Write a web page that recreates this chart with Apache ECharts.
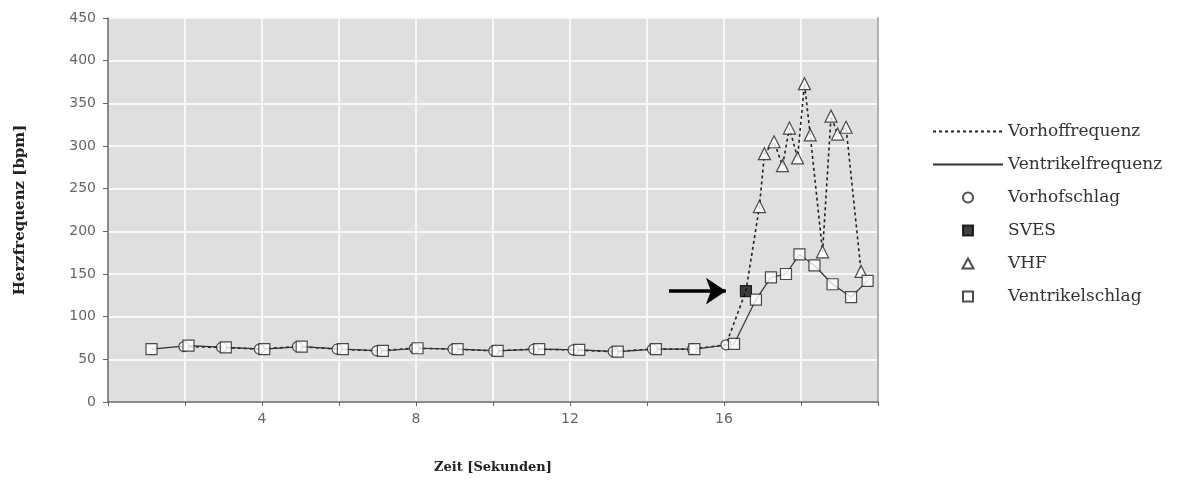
<!DOCTYPE html>
<html>
<head>
<meta charset="utf-8">
<script src="https://cdn.jsdelivr.net/npm/echarts@6/dist/echarts.min.js"></script>
<style>html,body{margin:0;padding:0;background:#fff}#c{width:1195px;height:484px}</style>
</head>
<body>
<div id="c"></div>
<script>
// Vorhofschlag (atrial beats)
var vorhofZeit = [1.97, 2.95, 3.93, 4.92, 5.95, 6.98, 7.96, 8.96, 10.02, 11.06, 12.08, 13.12, 14.14, 15.18, 16.05];
var vorhofWert = [65, 64, 62, 65, 62, 60, 63, 62, 60, 62, 61, 59, 62, 62, 67];
// SVES
var svesZeit = [16.57];
var svesWert = [130];
// VHF (atrial fibrillation beats)
var vhfZeit = [16.92, 17.05, 17.3, 17.52, 17.7, 17.91, 18.09, 18.24, 18.56, 18.78, 18.95, 19.17, 19.56];
var vhfWert = [229, 291, 305, 277, 321, 286, 373, 313, 176, 335, 314, 322, 153];
// Ventrikelschlag (ventricular beats)
var ventrikelZeit = [1.13, 2.09, 3.06, 4.06, 5.03, 6.1, 7.14, 8.04, 9.08, 10.12, 11.2, 12.24, 13.24, 14.23, 15.23, 16.26, 16.83, 17.22, 17.61, 17.96, 18.35, 18.82, 19.3, 19.73];
var ventrikelWert = [62, 66, 64, 62, 65, 62, 60, 63, 62, 60, 62, 61, 59, 62, 62, 68, 120, 146, 150, 173, 160, 138, 123, 142];
// arrow annotation (pointing at SVES)
var pfeilStart = [14.57, 130];
var pfeilEnde = [16.05, 130];
var xTickLabels = [4, 8, 12, 16];

function pairs(t, v) { return t.map(function (x, i) { return [x, v[i]]; }); }
var vorhof = pairs(vorhofZeit, vorhofWert);
var sves = pairs(svesZeit, svesWert);
var vhf = pairs(vhfZeit, vhfWert);
var ventrikel = pairs(ventrikelZeit, ventrikelWert);
var vorhofLinie = vorhof.concat(sves, vhf).sort(function (a, b) { return a[0] - b[0]; });

var squarePath = 'path://M0,0L10,0L10,10L0,10Z';
var trianglePath = 'path://M5,0L10,9L0,9Z';
var hidden = { color: 'rgba(0,0,0,0)', borderColor: 'rgba(0,0,0,0)', borderWidth: 0 };

var markerStyle = { color: '#ffffff', borderColor: '#222', borderWidth: 1.2 };
var chart = echarts.init(document.getElementById('c'), null, { renderer: 'canvas' });
chart.setOption({
  animation: false,
  backgroundColor: '#ffffff',
  grid: { left: 108, right: 317, top: 18, bottom: 82, show: true, backgroundColor: '#dfdfdf', borderWidth: 0 },
  legend: {
    orient: 'vertical', left: 927, top: 118, itemWidth: 70, itemHeight: 10, itemGap: 16,
    textStyle: { fontFamily: 'DejaVu Serif', fontSize: 17, color: '#333' },
    symbolKeepAspect: true,
    data: [
      { name: 'Vorhoffrequenz', itemStyle: hidden },
      { name: 'Ventrikelfrequenz', itemStyle: hidden },
      { name: 'Vorhofschlag', icon: 'circle' },
      { name: 'SVES', icon: squarePath },
      { name: 'VHF', icon: trianglePath },
      { name: 'Ventrikelschlag', icon: squarePath }
    ]
  },
  xAxis: {
    type: 'value', min: 0, max: 20, interval: 2,
    name: 'Zeit [Sekunden]', nameLocation: 'middle', nameGap: 59,
    nameTextStyle: { fontFamily: 'DejaVu Serif', fontWeight: 'bold', fontSize: 13, color: '#222' },
    axisLine: { show: true, lineStyle: { color: '#666', width: 1.5 } },
    axisTick: { show: true, length: 4, lineStyle: { color: '#666' } },
    axisLabel: {
      margin: 10, fontFamily: 'DejaVu Sans', fontSize: 14, color: '#666',
      formatter: function (v) { return xTickLabels.indexOf(v) >= 0 ? String(v) : ''; }
    },
    splitLine: { show: true, lineStyle: { color: '#f8f8f8', width: 2 } }
  },
  yAxis: [{
    type: 'value', min: 0, max: 450, interval: 50,
    name: 'Herzfrequenz [bpm]', nameLocation: 'middle', nameGap: 80,
    nameTextStyle: { fontFamily: 'DejaVu Serif', fontWeight: 'bold', fontSize: 15, color: '#222' },
    axisLine: { show: true, lineStyle: { color: '#666', width: 1.5 } },
    axisTick: { show: true, length: 5, lineStyle: { color: '#666' } },
    axisLabel: { margin: 12, fontFamily: 'DejaVu Sans', fontSize: 14, color: '#666' },
    splitLine: { show: true, lineStyle: { color: '#f8f8f8', width: 2 } }
  }, {
    type: 'value', min: 0, max: 450, position: 'right',
    axisLine: { show: true, lineStyle: { color: '#b0b0b0', width: 2 } },
    axisTick: { show: false }, axisLabel: { show: false }, splitLine: { show: false }
  }],
  series: [
    { name: 'Vorhoffrequenz', type: 'line', data: vorhofLinie, symbol: 'none', z: 2,
      lineStyle: { color: '#222', width: 1.6, type: [3, 3] }, itemStyle: { color: '#222' } },
    { name: 'Ventrikelfrequenz', type: 'line', data: ventrikel, symbol: 'none', z: 2,
      lineStyle: { color: '#333', width: 1.2, type: 'solid' }, itemStyle: { color: '#333' } },
    { name: 'Vorhofschlag', type: 'scatter', data: vorhof, symbol: 'circle', symbolSize: 10, z: 3,
      itemStyle: markerStyle },
    { name: 'SVES', type: 'scatter', data: sves, symbol: 'rect', symbolSize: 11, z: 4,
      itemStyle: { color: '#111', borderColor: '#000', borderWidth: 1.2 },
      markLine: {
        silent: true, symbol: ['none', 'arrow'], symbolSize: 20, label: { show: false },
        lineStyle: { color: '#000', width: 3.5, type: 'solid' },
        data: [[{ coord: pfeilStart }, { coord: pfeilEnde }]]
      } },
    { name: 'VHF', type: 'scatter', data: vhf, symbol: 'triangle', symbolSize: 12, z: 4,
      itemStyle: markerStyle },
    { name: 'Ventrikelschlag', type: 'scatter', data: ventrikel, symbol: 'rect', symbolSize: 11, z: 5,
      itemStyle: markerStyle }
  ]
});
</script>
</body>
</html>
